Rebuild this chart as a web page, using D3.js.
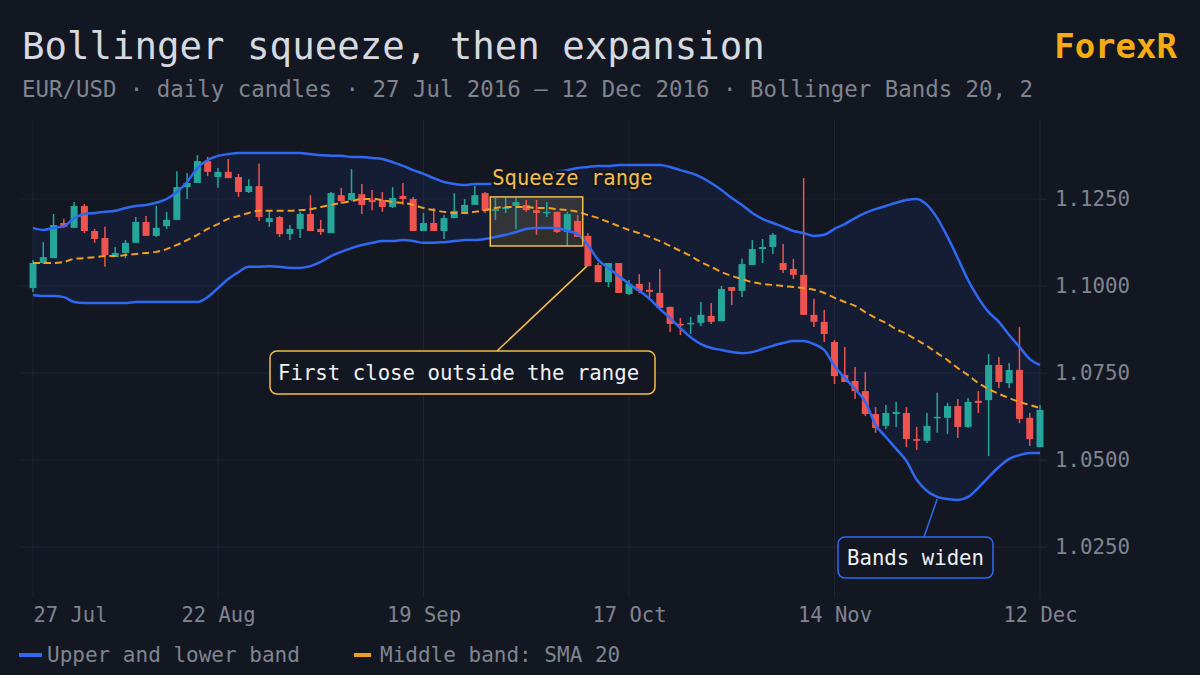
<!DOCTYPE html>
<html><head><meta charset="utf-8">
<script src="https://cdn.jsdelivr.net/npm/d3@7"></script>
<style>
html,body{margin:0;padding:0;background:#131722;}
svg{display:block;}
text{font-family:"DejaVu Sans Mono",monospace;}
</style></head><body>
<svg id="chart" width="1200" height="675"></svg>
<script>
// ---- data (EUR/USD daily, 27 Jul 2016 – 12 Dec 2016, trading days) ----
const opens = [1.0994,1.1066,1.1080,1.1181,1.1167,1.1230,1.1158,1.1138,1.1083,1.1095,
1.1124,1.1184,1.1144,1.1172,1.1190,1.1284,1.1296,1.1359,1.1313,1.1328,
1.1313,1.1270,1.1287,1.1184,1.1198,1.1149,1.1164,1.1207,1.1164,1.1152,
1.1261,1.1247,1.1264,1.1247,1.1247,1.1227,1.1259,1.1250,1.1158,1.1181,
1.1158,1.1195,1.1213,1.1233,1.1267,1.1216,1.1221,1.1230,1.1233,1.1218,
1.1210,1.1213,1.1155,1.1187,1.1144,1.1060,1.1011,1.1066,1.0977,1.1006,
1.0989,1.0980,1.0940,1.0891,1.0891,1.0894,1.0914,1.0899,1.0997,1.0986,
1.1060,1.1106,1.1112,1.1066,1.1049,1.1032,1.0917,1.0897,1.0839,1.0744,
1.0727,1.0698,1.0632,1.0598,1.0632,1.0635,1.0560,1.0555,1.0621,1.0621,
1.0655,1.0595,1.0670,1.0672,1.0773,1.0721,1.0759,1.0621,1.0537];
const highs = [1.1075,1.1126,1.1207,1.1193,1.1241,1.1236,1.1164,1.1170,1.1112,1.1132,
1.1198,1.1201,1.1230,1.1213,1.1330,1.1325,1.1376,1.1371,1.1339,1.1365,
1.1322,1.1307,1.1351,1.1216,1.1201,1.1175,1.1213,1.1261,1.1190,1.1270,
1.1282,1.1336,1.1293,1.1276,1.1270,1.1284,1.1296,1.1256,1.1210,1.1224,
1.1204,1.1267,1.1250,1.1287,1.1270,1.1253,1.1256,1.1256,1.1247,1.1247,
1.1241,1.1213,1.1213,1.1204,1.1152,1.1066,1.1066,1.1066,1.1017,1.1034,
1.1011,1.1049,1.0940,1.0908,1.0911,1.0954,1.0951,1.1000,1.0997,1.1078,
1.1132,1.1135,1.1152,1.1121,1.1078,1.1310,1.0963,1.0931,1.0845,1.0825,
1.0767,1.0753,1.0652,1.0658,1.0667,1.0652,1.0595,1.0635,1.0693,1.0664,
1.0675,1.0678,1.0698,1.0805,1.0796,1.0779,1.0882,1.0635,1.0658];
const lows = [1.0983,1.1063,1.1080,1.1167,1.1167,1.1152,1.1124,1.1055,1.1083,1.1080,
1.1124,1.1144,1.1141,1.1164,1.1190,1.1250,1.1296,1.1316,1.1282,1.1310,
1.1256,1.1267,1.1187,1.1170,1.1141,1.1132,1.1138,1.1158,1.1147,1.1152,
1.1236,1.1244,1.1207,1.1218,1.1213,1.1224,1.1233,1.1158,1.1158,1.1158,
1.1135,1.1195,1.1210,1.1233,1.1210,1.1190,1.1210,1.1164,1.1213,1.1147,
1.1198,1.1152,1.1115,1.1141,1.1057,1.1011,1.0997,1.0980,1.0974,1.0980,
1.0966,1.0937,1.0868,1.0859,1.0862,1.0885,1.0891,1.0899,1.0945,1.0968,
1.1060,1.1066,1.1092,1.1037,1.1020,1.0917,1.0882,1.0839,1.0718,1.0724,
1.0675,1.0626,1.0578,1.0589,1.0595,1.0537,1.0529,1.0549,1.0578,1.0575,
1.0563,1.0592,1.0635,1.0511,1.0707,1.0707,1.0606,1.0540,1.0537];
const closes = [1.1066,1.1083,1.1175,1.1170,1.1230,1.1158,1.1135,1.1089,1.1095,1.1124,
1.1184,1.1144,1.1167,1.1190,1.1284,1.1296,1.1359,1.1328,1.1328,1.1310,
1.1270,1.1287,1.1198,1.1195,1.1149,1.1164,1.1207,1.1158,1.1155,1.1267,
1.1244,1.1267,1.1233,1.1241,1.1227,1.1253,1.1250,1.1158,1.1181,1.1158,
1.1195,1.1216,1.1233,1.1261,1.1216,1.1221,1.1227,1.1241,1.1218,1.1210,
1.1213,1.1155,1.1207,1.1141,1.1057,1.1011,1.1066,1.0980,1.1006,1.0986,
1.0983,1.0937,1.0891,1.0888,1.0894,1.0917,1.0897,1.0991,1.0986,1.1063,
1.1106,1.1112,1.1147,1.1046,1.1032,1.0917,1.0897,1.0862,1.0741,1.0724,
1.0698,1.0632,1.0592,1.0635,1.0638,1.0560,1.0555,1.0598,1.0624,1.0655,
1.0595,1.0667,1.0664,1.0773,1.0724,1.0759,1.0618,1.0560,1.0644];
const upperBand = [1.1167,1.1161,1.1167,1.1172,1.1195,1.1207,1.1210,1.1213,1.1216,1.1224,
1.1230,1.1233,1.1239,1.1250,1.1270,1.1299,1.1339,1.1362,1.1374,1.1379,
1.1382,1.1382,1.1382,1.1382,1.1382,1.1382,1.1382,1.1379,1.1376,1.1374,
1.1374,1.1371,1.1371,1.1368,1.1365,1.1356,1.1345,1.1333,1.1322,1.1310,
1.1299,1.1293,1.1290,1.1293,1.1293,1.1293,1.1299,1.1305,1.1310,1.1316,
1.1322,1.1328,1.1333,1.1339,1.1342,1.1345,1.1345,1.1348,1.1348,1.1348,
1.1348,1.1348,1.1342,1.1333,1.1325,1.1313,1.1296,1.1276,1.1253,1.1233,
1.1210,1.1193,1.1181,1.1170,1.1158,1.1152,1.1144,1.1147,1.1164,1.1178,
1.1195,1.1210,1.1221,1.1230,1.1239,1.1247,1.1250,1.1233,1.1195,1.1141,
1.1080,1.1017,1.0966,1.0925,1.0897,1.0859,1.0825,1.0790,1.0773];
const middleBand = [1.1066,1.1066,1.1066,1.1069,1.1078,1.1080,1.1083,1.1086,1.1086,1.1089,
1.1092,1.1095,1.1098,1.1106,1.1118,1.1132,1.1147,1.1164,1.1178,1.1193,
1.1201,1.1210,1.1216,1.1216,1.1216,1.1216,1.1218,1.1221,1.1227,1.1233,
1.1239,1.1244,1.1250,1.1250,1.1247,1.1241,1.1239,1.1233,1.1224,1.1218,
1.1213,1.1210,1.1210,1.1213,1.1218,1.1224,1.1227,1.1227,1.1227,1.1224,
1.1224,1.1221,1.1218,1.1213,1.1204,1.1195,1.1184,1.1172,1.1161,1.1152,
1.1141,1.1129,1.1115,1.1101,1.1086,1.1069,1.1055,1.1040,1.1029,1.1020,
1.1011,1.1006,1.1003,1.1000,1.0997,1.0994,1.0989,1.0980,1.0966,1.0954,
1.0943,1.0925,1.0908,1.0894,1.0876,1.0862,1.0845,1.0828,1.0807,1.0787,
1.0764,1.0744,1.0721,1.0704,1.0690,1.0678,1.0667,1.0658,1.0649];
const lowerBand = [1.0974,1.0971,1.0971,1.0968,1.0954,1.0951,1.0951,1.0951,1.0951,1.0951,
1.0954,1.0954,1.0954,1.0954,1.0954,1.0954,1.0954,1.0968,1.0994,1.1020,
1.1040,1.1055,1.1055,1.1057,1.1055,1.1052,1.1052,1.1057,1.1069,1.1086,
1.1098,1.1109,1.1118,1.1124,1.1129,1.1129,1.1132,1.1129,1.1124,1.1124,
1.1126,1.1129,1.1132,1.1132,1.1135,1.1141,1.1147,1.1155,1.1164,1.1167,
1.1167,1.1167,1.1158,1.1149,1.1118,1.1075,1.1052,1.1029,1.1006,1.0986,
1.0963,1.0934,1.0908,1.0879,1.0853,1.0833,1.0822,1.0816,1.0810,1.0807,
1.0810,1.0819,1.0828,1.0836,1.0842,1.0842,1.0833,1.0816,1.0770,1.0736,
1.0704,1.0667,1.0601,1.0566,1.0532,1.0497,1.0443,1.0411,1.0394,1.0388,
1.0385,1.0394,1.0420,1.0451,1.0480,1.0503,1.0514,1.0520,1.0520];
const xTickDates = ["2016-07-27","2016-08-22","2016-09-19","2016-10-17","2016-11-14","2016-12-12"];
const xTickLabels = ["27 Jul","22 Aug","19 Sep","17 Oct","14 Nov","12 Dec"];
const yTicks = [1.0250,1.0500,1.0750,1.1000,1.1250];
const squeezeRange = ["2016-09-28","2016-10-10"];   // candles forming the squeeze box
const breakoutDate = "2016-10-11";                  // first close outside the range
const widenDate = "2016-11-28";                     // lower band point for "Bands widen"

// ---- categories: trading days ----
const dates = d3.utcDay.range(new Date(Date.UTC(2016,6,27)), new Date(Date.UTC(2016,11,13)))
  .filter(d => d.getUTCDay() !== 0 && d.getUTCDay() !== 6)
  .map(d => d3.utcFormat("%Y-%m-%d")(d));
const data = dates.map((d,i) => ({d, o:opens[i], h:highs[i], l:lows[i], c:closes[i],
  up:upperBand[i], mid:middleBand[i], lo:lowerBand[i]}));

const svg = d3.select("#chart");
const W = 1200, H = 675;
const C = {bg:"#131722", grid:"#1f2433", text:"#d6d9e0", muted:"#80848f",
  up:"#26a69a", down:"#ef5350", band:"#3068f2", mid:"#f0a020", gold:"#f2bf48"};

svg.append("rect").attr("width",W).attr("height",H).attr("fill",C.bg);

const x = d3.scalePoint().domain(dates).range([33,1040]);
const y = d3.scaleLinear().domain([1.0112,1.1477]).range([595,120]);

// grid
const g = svg.append("g");
g.selectAll(".hg").data(yTicks).join("line")
  .attr("x1",20).attr("x2",1047).attr("y1",d=>y(d)).attr("y2",d=>y(d))
  .attr("stroke",C.grid).attr("stroke-width",1);
g.selectAll(".vg").data(xTickDates).join("line")
  .attr("x1",d=>x(d)).attr("x2",d=>x(d)).attr("y1",120).attr("y2",598)
  .attr("stroke",C.grid).attr("stroke-width",1);

// band fill
svg.append("path").datum(data)
  .attr("d", d3.area().x(d=>x(d.d)).y0(d=>y(d.lo)).y1(d=>y(d.up)).curve(d3.curveMonotoneX))
  .attr("fill","#2962ff").attr("fill-opacity",0.08);

// squeeze box
const sq = data.filter(d => d.d >= squeezeRange[0] && d.d <= squeezeRange[1]);
const step = x.step();
const sqHi = d3.max(sq, d=>d.h), sqLo = d3.min(sq, d=>d.l);
const sqX0 = x(squeezeRange[0]) - step/2, sqX1 = x(squeezeRange[1]) + step/2;
svg.append("rect").attr("x",sqX0).attr("y",y(sqHi)).attr("width",sqX1-sqX0).attr("height",y(sqLo)-y(sqHi))
  .attr("fill","#ffd070").attr("fill-opacity",0.13);

// candles
const cg = svg.append("g");
const cs = cg.selectAll("g").data(data).join("g");
cs.append("line").attr("x1",d=>x(d.d)).attr("x2",d=>x(d.d))
  .attr("y1",d=>y(d.h)).attr("y2",d=>y(d.l))
  .attr("stroke",d=>d.c>=d.o?C.up:C.down).attr("stroke-width",1.5);
cs.append("rect").attr("x",d=>x(d.d)-3.5).attr("width",7)
  .attr("y",d=>y(Math.max(d.o,d.c)))
  .attr("height",d=>Math.max(1.5, Math.abs(y(d.o)-y(d.c))))
  .attr("fill",d=>d.c>=d.o?C.up:C.down);

// middle band
svg.append("path").datum(data)
  .attr("d", d3.line().x(d=>x(d.d)).y(d=>y(d.mid)).curve(d3.curveMonotoneX))
  .attr("fill","none").attr("stroke",C.mid).attr("stroke-width",2).attr("stroke-dasharray","7,4");
// upper/lower
["up","lo"].forEach(k => {
  svg.append("path").datum(data)
    .attr("d", d3.line().x(d=>x(d.d)).y(d=>y(d[k])).curve(d3.curveMonotoneX))
    .attr("fill","none").attr("stroke",C.band).attr("stroke-width",2.5);
});

// squeeze box stroke + label
svg.append("rect").attr("x",sqX0).attr("y",y(sqHi)).attr("width",sqX1-sqX0).attr("height",y(sqLo)-y(sqHi))
  .attr("fill","none").attr("stroke",C.gold).attr("stroke-width",1.5);
svg.append("text").attr("x",sqX0+2).attr("y",y(sqHi)-12).text("Squeeze range")
  .attr("fill",C.gold).attr("font-size",20.5)
  .attr("stroke",C.bg).attr("stroke-width",5).attr("paint-order","stroke");

// breakout callout
const bo = data.find(d=>d.d===breakoutDate);
svg.append("line").attr("x1",497).attr("y1",351).attr("x2",x(bo.d)-1).attr("y2",y(bo.c))
  .attr("stroke",C.gold).attr("stroke-width",1.5);
svg.append("rect").attr("x",270).attr("y",351).attr("width",385).attr("height",43).attr("rx",7)
  .attr("fill",C.bg).attr("stroke",C.gold).attr("stroke-width",1.5);
svg.append("text").attr("x",278).attr("y",380).text("First close outside the range")
  .attr("fill","#eef0f4").attr("font-size",20.7);

// bands widen callout
const wd = data.find(d=>d.d===widenDate);
svg.append("line").attr("x1",924).attr("y1",537).attr("x2",x(wd.d)).attr("y2",y(wd.lo)+2)
  .attr("stroke",C.band).attr("stroke-width",1.5);
svg.append("rect").attr("x",838).attr("y",537).attr("width",155).attr("height",41).attr("rx",7)
  .attr("fill",C.bg).attr("stroke",C.band).attr("stroke-width",1.5);
svg.append("text").attr("x",847).attr("y",565).text("Bands widen")
  .attr("fill","#eef0f4").attr("font-size",20.7);

// y axis (right)
const yAxis = svg.append("g").attr("transform","translate(1040,0)")
  .call(d3.axisRight(y).tickValues(yTicks).tickFormat(d3.format(".4f")).tickSize(6).tickPadding(9));
yAxis.select(".domain").remove();
yAxis.selectAll("line").attr("stroke",C.grid);
yAxis.selectAll("text").attr("fill",C.muted).attr("font-size",20.8)
  .attr("font-family","DejaVu Sans Mono, monospace");

// x axis
const xAxis = svg.append("g").attr("transform","translate(0,600)")
  .call(d3.axisBottom(x).tickValues(xTickDates).tickFormat((d,i)=>xTickLabels[i]).tickSize(0).tickPadding(7));
xAxis.select(".domain").remove();
xAxis.selectAll("text").attr("fill",C.muted).attr("font-size",20.5)
  .attr("font-family","DejaVu Sans Mono, monospace")
  .attr("text-anchor",(d,i)=> i===0 ? "start" : "middle");

// titles
svg.append("text").attr("x",22).attr("y",59).text("Bollinger squeeze, then expansion")
  .attr("fill",C.text).attr("font-size",37.4);
svg.append("text").attr("x",22).attr("y",97)
  .text("EUR/USD · daily candles · 27 Jul 2016 – 12 Dec 2016 · Bollinger Bands 20, 2")
  .attr("fill",C.muted).attr("font-size",22.4);
svg.append("text").attr("x",1177).attr("y",58).attr("text-anchor","end").text("ForexR")
  .attr("fill","#f5ac14").attr("font-size",34).attr("font-weight",600);

// legend
const lg = svg.append("g");
lg.append("rect").attr("x",19).attr("y",653).attr("width",23).attr("height",4).attr("fill",C.band);
lg.append("text").attr("x",47).attr("y",662).text("Upper and lower band").attr("fill",C.muted).attr("font-size",21);
lg.append("rect").attr("x",354).attr("y",653).attr("width",17).attr("height",4).attr("fill",C.mid);
lg.append("text").attr("x",380).attr("y",662).text("Middle band: SMA 20").attr("fill",C.muted).attr("font-size",21);
</script>
</body></html>
